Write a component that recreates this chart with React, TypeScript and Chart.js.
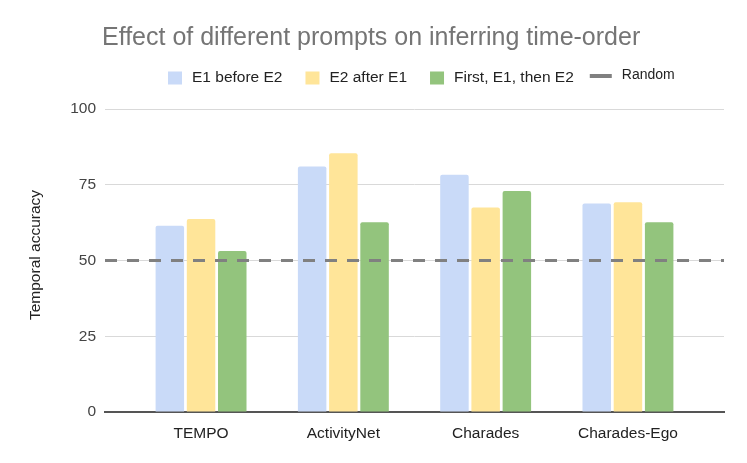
import React, { useEffect, useRef } from 'react';
import { Chart, registerables } from 'chart.js';

Chart.register(...registerables);

// ---- data ----
const CATEGORIES = ['TEMPO', 'ActivityNet', 'Charades', 'Charades-Ego'];
const E1_BEFORE_E2 = [61.5, 81.0, 78.3, 68.8];
const E2_AFTER_E1 = [63.7, 85.4, 67.5, 69.2];
const FIRST_E1_THEN_E2 = [53.1, 62.6, 72.9, 62.6];
const RANDOM_BASELINE = 50;
const SERIES_LABELS = ['E1 before E2', 'E2 after E1', 'First, E1, then E2', 'Random'];
const Y_MIN = 0;
const Y_MAX = 100;
const Y_STEP = 25;
const TITLE = 'Effect of different prompts on inferring time-order';
const Y_TITLE = 'Temporal accuracy';

// ---- layout / style ----
const X_MIN = -0.675;
const X_MAX = 3.675;
const COLORS = ['#c9daf8', '#ffe599', '#93c47d', '#808080'];
const FONT = '"Liberation Sans", Arial, sans-serif';

const overlayPlugin = {
  id: 'overlay',
  afterDraw(chart: any) {
    const ctx = chart.ctx as CanvasRenderingContext2D;
    ctx.save();
    // title
    ctx.font = `25px ${FONT}`;
    ctx.fillStyle = '#757575';
    ctx.textBaseline = 'middle';
    ctx.textAlign = 'left';
    ctx.fillText(TITLE, 102, 38);

    // y-axis title
    ctx.save();
    ctx.translate(36, 255);
    ctx.rotate(-Math.PI / 2);
    ctx.textAlign = 'center';
    ctx.textBaseline = 'middle';
    ctx.font = `15.5px ${FONT}`;
    ctx.fillStyle = '#222222';
    ctx.fillText(Y_TITLE, 0, 0);
    ctx.restore();

    // legend
    let x = 168;
    chart.data.datasets.forEach((d: any) => {
      ctx.textAlign = 'left';
      ctx.textBaseline = 'middle';
      if (d.type === 'line') {
        const lx = x - 7;
        ctx.fillStyle = d.borderColor;
        ctx.fillRect(lx, 74, 22, 4);
        ctx.font = `14px ${FONT}`;
        ctx.fillStyle = '#222222';
        ctx.fillText(d.label, lx + 32, 75);
        x = lx + 32 + ctx.measureText(d.label).width + 23;
      } else {
        ctx.fillStyle = d.backgroundColor;
        ctx.fillRect(x, 71.5, 14, 13);
        ctx.font = `15.5px ${FONT}`;
        ctx.fillStyle = '#222222';
        ctx.fillText(d.label, x + 24, 78);
        x = x + 24 + ctx.measureText(d.label).width + 23;
      }
    });
    ctx.restore();
  },
};

export default function App() {
  const ref = useRef<HTMLCanvasElement | null>(null);

  useEffect(() => {
    if (!ref.current) return;
    const toPoints = (arr: number[]) => arr.map((v, i) => ({ x: i, y: v }));
    const barCommon = {
      type: 'bar' as const,
      categoryPercentage: 0.658,
      barPercentage: 0.913,
      borderRadius: 2,
      borderSkipped: 'start' as const,
    };
    const chart = new Chart(ref.current, {
      type: 'bar',
      data: {
        datasets: [
          { ...barCommon, label: SERIES_LABELS[0], data: toPoints(E1_BEFORE_E2), backgroundColor: COLORS[0] },
          { ...barCommon, label: SERIES_LABELS[1], data: toPoints(E2_AFTER_E1), backgroundColor: COLORS[1] },
          { ...barCommon, label: SERIES_LABELS[2], data: toPoints(FIRST_E1_THEN_E2), backgroundColor: COLORS[2] },
          {
            type: 'line',
            label: SERIES_LABELS[3],
            data: [
              { x: X_MIN, y: RANDOM_BASELINE },
              { x: X_MAX, y: RANDOM_BASELINE },
            ],
            borderColor: COLORS[3],
            backgroundColor: COLORS[3],
            borderWidth: 3,
            borderDash: [12, 10],
            borderCapStyle: 'butt',
            pointRadius: 0,
            fill: false,
            order: -1,
          } as any,
        ],
      },
      options: {
        responsive: false,
        animation: false,
        layout: { padding: { top: 109, right: 23, bottom: 0, left: 0 } },
        plugins: {
          legend: { display: false },
          title: { display: false },
          tooltip: { enabled: false },
        },
        scales: {
          x: {
            type: 'linear',
            min: X_MIN,
            max: X_MAX,
            offset: false,
            grid: { display: false, drawTicks: false },
            border: { display: true, color: '#555555', width: 2 },
            afterBuildTicks: (s: any) => {
              s.ticks = s.ticks.filter(
                (t: any) => Number.isInteger(t.value) && t.value >= 0 && t.value < CATEGORIES.length
              );
            },
            afterFit: (s: any) => {
              s.height = 51;
            },
            ticks: {
              stepSize: 1,
              autoSkip: false,
              maxRotation: 0,
              padding: 12,
              color: '#222222',
              font: { family: FONT, size: 15.5 },
              callback: (v: any) => CATEGORIES[v] ?? '',
            },
          },
          y: {
            min: Y_MIN,
            max: Y_MAX,
            grid: { color: '#d9d9d9', lineWidth: 1, drawTicks: false },
            border: { display: false },
            afterFit: (s: any) => {
              s.width = 105;
            },
            ticks: {
              stepSize: Y_STEP,
              padding: 9,
              color: '#444444',
              font: { family: FONT, size: 15.5 },
            },
          },
        },
      },
      plugins: [overlayPlugin],
    } as any);
    return () => chart.destroy();
  }, []);

  return (
    <div style={{ position: 'absolute', left: 0, top: 0, width: 747, height: 463, background: '#ffffff' }}>
      <canvas ref={ref} width={747} height={463} style={{ display: 'block' }} />
    </div>
  );
}
